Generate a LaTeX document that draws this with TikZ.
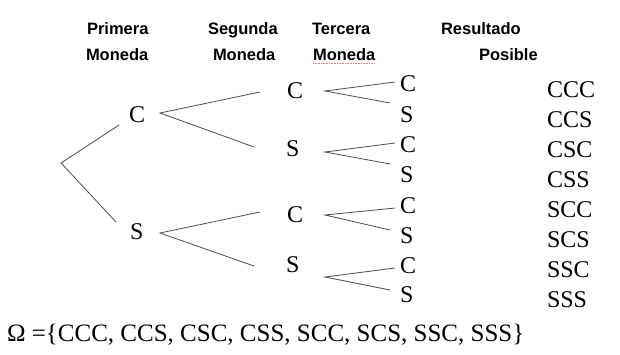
\documentclass[tikz,border=0pt]{standalone}
\usepackage{fontspec}
\setmainfont{Liberation Serif}
\newfontfamily\hdrfont{Liberation Sans Bold}
\usetikzlibrary{calc}
\begin{document}
\begin{tikzpicture}[x=1pt,y=-1pt,
  every node/.style={inner sep=0pt,outer sep=0pt,anchor=base west},
  hdr/.style={font=\hdrfont\fontsize{16.5}{19}\selectfont},
  lett/.style={font=\fontsize{24}{28}\selectfont},
  res/.style={font=\fontsize{24}{28}\selectfont},
  branch/.style={draw=black!70,line width=0.8pt}]
\useasboundingbox (0,0) rectangle (620,354);
% headers
\node[hdr] (h1a) at (87,34) {Primera};
\node[hdr] (h1b) at (86,60) {Moneda};
\node[hdr] (h2a) at (208,34) {Segunda};
\node[hdr] (h2b) at (213,60) {Moneda};
\node[hdr] (h3a) at (312,34) {Tercera};
\node[hdr] (h3b) at (313,60) {Moneda};
\node[hdr] (h4a) at (441,34) {Resultado};
\node[hdr] (h4b) at (479,60) {Posible};
\draw[red!55,densely dotted,line width=0.6pt] ($(h3b.base west)+(0,3)$) -- ($(h3b.base east)+(0,3)$);
% tree nodes
\node[lett] (c1) at (129,122) {C};
\node[lett] (s1) at (130,239) {S};
\node[lett] (c2u) at (287,98.5) {C};
\node[lett] (s2u) at (286,156) {S};
\node[lett] (c2l) at (287,222) {C};
\node[lett] (s2l) at (286,272) {S};
\node[lett] (c3a) at (400,91) {C};
\node[lett] (s3a) at (400,122) {S};
\node[lett] (c3b) at (400,152) {C};
\node[lett] (s3b) at (400,182) {S};
\node[lett] (c3c) at (400,213) {C};
\node[lett] (s3c) at (400,243) {S};
\node[lett] (c3d) at (400,273) {C};
\node[lett] (s3d) at (400,302) {S};
% vertices
\coordinate (root) at (61,163);
\coordinate (vc1) at (160,113);
\coordinate (vs1) at (160,233);
\coordinate (va) at (325,91);
\coordinate (vb) at (325,152);
\coordinate (vc) at (325,215);
\coordinate (vd) at (325,277);
% branches
\draw[branch] ($(c1.base west)+(-10,3)$) -- (root) -- ($(s1.base west)+(-14,-17)$);
\draw[branch] ($(c2u.base west)+(-27,-6.5)$) -- (vc1) -- ($(s2u.base west)+(-32,-9)$);
\draw[branch] ($(c2l.base west)+(-27,-10)$) -- (vs1) -- ($(s2l.base west)+(-32,-6)$);
\draw[branch] ($(c3a.base west)+(-5,-9)$) -- (va) -- ($(s3a.base west)+(-10,-19)$);
\draw[branch] ($(c3b.base west)+(-5,-9)$) -- (vb) -- ($(s3b.base west)+(-10,-18)$);
\draw[branch] ($(c3c.base west)+(-5,-5)$) -- (vc) -- ($(s3c.base west)+(-10,-13)$);
\draw[branch] ($(c3d.base west)+(-5,-5)$) -- (vd) -- ($(s3d.base west)+(-10,-12)$);
% results
\node[res] (r1) at (547,97.5) {CCC};
\node[res] (r2) at (547,127.5) {CCS};
\node[res] (r3) at (547,157.5) {CSC};
\node[res] (r4) at (547,187.5) {CSS};
\node[res] (r5) at (547,217.5) {SCC};
\node[res] (r6) at (547,247.5) {SCS};
\node[res] (r7) at (547,277.5) {SSC};
\node[res] (r8) at (547,307.5) {SSS};
% sample space
\node[font=\fontsize{25}{30}\selectfont] (omega) at (7,341.5) {Ω =\{CCC, CCS, CSC, CSS, SCC, SCS, SSC, SSS\}};
\end{tikzpicture}
\end{document}
